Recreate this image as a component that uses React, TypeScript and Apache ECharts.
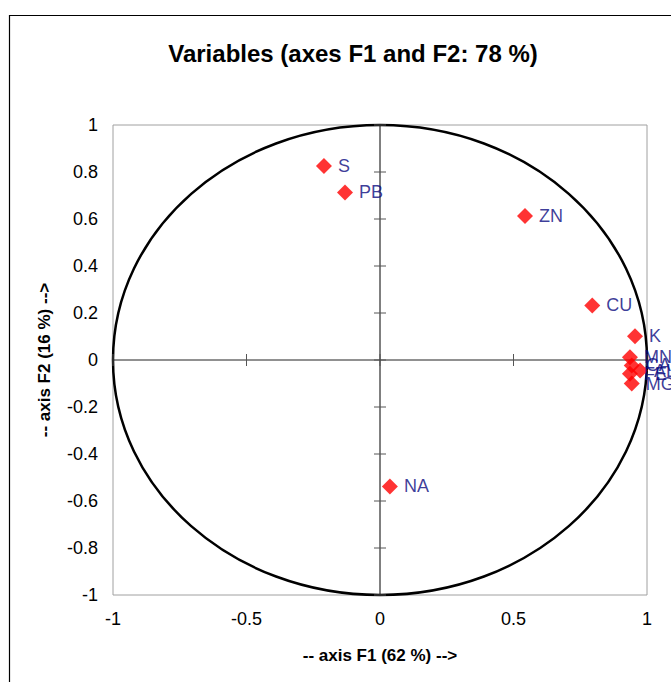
import React, { useEffect, useRef } from "react";
import * as echarts from "echarts";

const variableNames = ["S", "PB", "ZN", "CU", "K", "NA", "MN", "CA", "AL", "FE", "MG"];
const f1Values = [-0.21, -0.131, 0.543, 0.795, 0.955, 0.037, 0.936, 0.943, 0.974, 0.936, 0.943];
const f2Values = [0.826, 0.713, 0.613, 0.232, 0.101, -0.538, 0.012, -0.023, -0.045, -0.059, -0.1];
const xTicks = [-1, -0.5, 0, 0.5, 1];
const yTicks = [-1, -0.8, -0.6, -0.4, -0.2, 0, 0.2, 0.4, 0.6, 0.8, 1];

const LABEL_FONT = "Arial, 'Liberation Sans', sans-serif";

export default function App() {
  const ref = useRef<HTMLDivElement>(null);
  useEffect(() => {
    document.body.style.margin = "0";
    const chart = echarts.init(ref.current!, undefined, { renderer: "svg" });
    const points = variableNames.map((n, i) => ({ name: n, value: [f1Values[i], f2Values[i]] }));
    const option: any = {
      animation: false,
      backgroundColor: "#fff",
      title: {
        text: "Variables (axes F1 and F2: 78 %)",
        left: 348,
        top: 36,
        textAlign: "center",
        textStyle: { fontFamily: LABEL_FONT, fontSize: 24, fontWeight: "bold", color: "#000" },
      },
      graphic: [
        {
          type: "rect",
          shape: { x: 9.5, y: 15.5, width: 700, height: 700 },
          style: { fill: "none", stroke: "#000", lineWidth: 1.2 },
          silent: true,
          z: -1,
        },
      ],
      grid: {
        left: 113,
        top: 125,
        width: 534,
        height: 470,
        show: true,
        borderColor: "#a0a0a0",
        borderWidth: 1,
        backgroundColor: "transparent",
      },
      xAxis: {
        type: "value",
        min: -1,
        max: 1,
        interval: 0.5,
        name: "-- axis F1 (62 %) -->",
        nameLocation: "middle",
        nameGap: 52,
        nameTextStyle: { fontFamily: LABEL_FONT, fontSize: 17, fontWeight: "bold", color: "#000" },
        axisLine: { show: false },
        axisTick: { show: false },
        splitLine: { show: false },
        axisLabel: { fontFamily: LABEL_FONT, fontSize: 18, color: "#000", margin: 15 },
      },
      yAxis: {
        type: "value",
        min: -1,
        max: 1,
        interval: 0.2,
        name: "-- axis F2 (16 %) -->",
        nameLocation: "middle",
        nameGap: 60,
        nameRotate: 90,
        nameTextStyle: { fontFamily: LABEL_FONT, fontSize: 17, fontWeight: "bold", color: "#000" },
        axisLine: { show: false },
        axisTick: { show: false },
        splitLine: { show: false },
        axisLabel: {
          fontFamily: LABEL_FONT,
          fontSize: 18,
          color: "#000",
          margin: 15,
          formatter: (v: number) => String(Math.round(v * 10) / 10),
        },
      },
      series: [
        {
          type: "custom",
          coordinateSystem: "cartesian2d",
          silent: true,
          z: 1,
          data: [[0, 0]],
          renderItem: (params: any, api: any) => {
            const c = api.coord([0, 0]);
            const left = api.coord([-1, 0]);
            const right = api.coord([1, 0]);
            const top = api.coord([0, 1]);
            const bottom = api.coord([0, -1]);
            const children: any[] = [
              {
                type: "line",
                shape: { x1: left[0], y1: c[1], x2: right[0], y2: c[1] },
                style: { stroke: "#222", lineWidth: 1 },
              },
              {
                type: "line",
                shape: { x1: c[0], y1: top[1], x2: c[0], y2: bottom[1] },
                style: { stroke: "#000", lineWidth: 1 },
              },
              {
                type: "ellipse",
                shape: { cx: c[0], cy: c[1], rx: right[0] - c[0], ry: c[1] - top[1] },
                style: { fill: "none", stroke: "#000", lineWidth: 2.5 },
              },
            ];
            xTicks.forEach((t) => {
              const p = api.coord([t, 0]);
              children.push({
                type: "line",
                shape: { x1: p[0], y1: p[1] - 6, x2: p[0], y2: p[1] + 6 },
                style: { stroke: "#555", lineWidth: 1 },
              });
            });
            yTicks.forEach((t) => {
              const p = api.coord([0, t]);
              children.push({
                type: "line",
                shape: { x1: p[0] - 6, y1: p[1], x2: p[0] + 6, y2: p[1] },
                style: { stroke: "#555", lineWidth: 1 },
              });
            });
            return { type: "group", children };
          },
        },
        {
          type: "scatter",
          z: 3,
          symbol: "diamond",
          symbolSize: 16,
          itemStyle: { color: "#ff0000" },
          data: points,
          label: {
            show: true,
            position: "right",
            distance: 6,
            formatter: (p: any) => p.name,
            fontFamily: LABEL_FONT,
            fontSize: 18,
            color: "#0a0a80",
          },
        },
      ],
    };
    chart.setOption(option);
    return () => chart.dispose();
  }, []);
  return <div ref={ref} style={{ width: 671, height: 682 }} />;
}
